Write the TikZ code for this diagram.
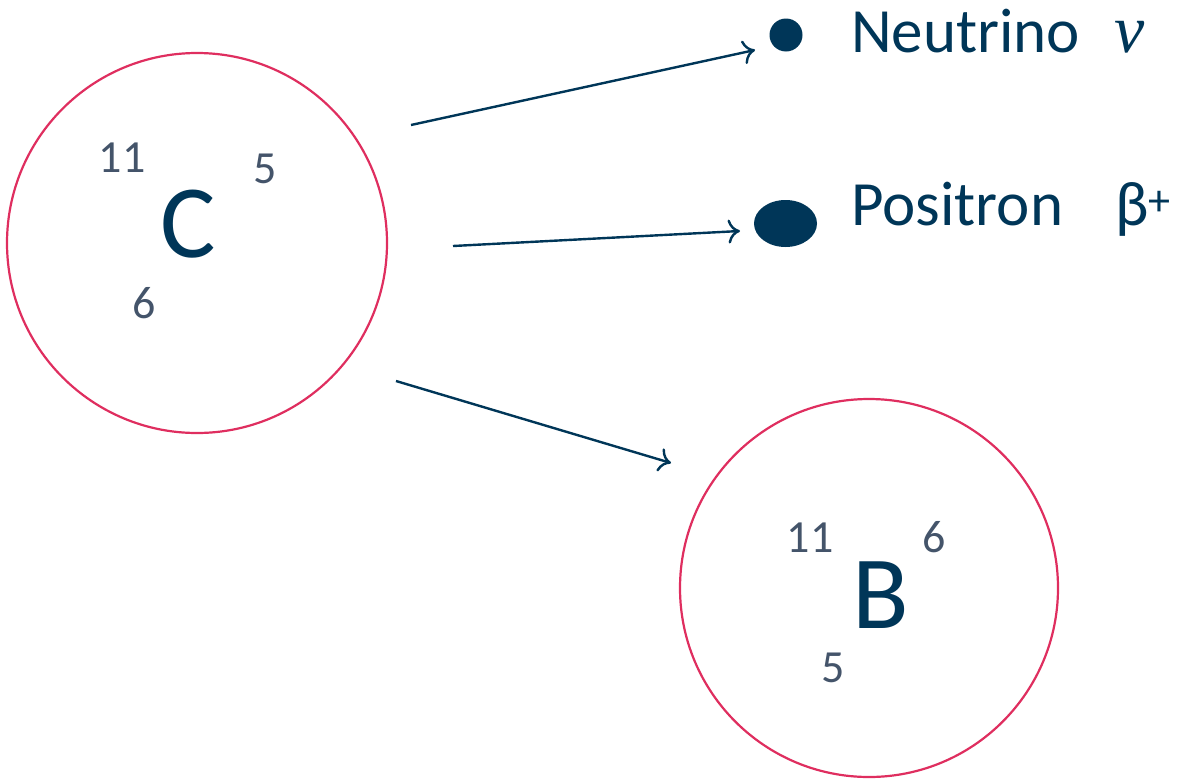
\documentclass[tikz,border=0pt]{standalone}
\usepackage{fontspec}
\setmainfont{Carlito}
\newfontfamily\nufont{Liberation Serif}
\usetikzlibrary{arrows.meta,shapes.geometric}
\definecolor{navy}{HTML}{003658}
\definecolor{slate}{HTML}{44546A}
\definecolor{crimson}{HTML}{DF2E5F}
\tikzset{
  nucleus/.style={circle, draw=crimson, line width=2.2pt, minimum size=#1, inner sep=0pt},
  elem/.style={text=navy, inner sep=0pt, anchor=base, font=\fontsize{104}{120}\selectfont},
  num/.style={text=slate, inner sep=0pt, anchor=base, font=\fontsize{46}{54}\selectfont},
  lbl/.style={text=navy, inner sep=0pt, anchor=base west, font=\fontsize{63}{75}\selectfont},
  react/.style={draw=navy, line width=2.4pt, -{To[length=12pt,width=24pt,line width=2.4pt]}},
}
\begin{document}
\begin{tikzpicture}[x=1pt,y=-1pt]
\useasboundingbox (0,0) rectangle (1180,782);
% nuclei
\node[nucleus=380pt] (cn) at (197,243) {};
\node[nucleus=378pt] (bn) at (869,588) {};
% carbon labels
\node[elem] (c) at (188,257) {C};
\node[num] (cmass) at (122,172) {11};
\node[num] (cneu) at (265,183) {5};
\node[num] (cz) at (144,318) {6};
% boron labels
\node[elem] (b) at (881,628) {B};
\node[num] (bmass) at (810,552) {11};
\node[num] (bneu) at (934,552) {6};
\node[num] (bz) at (833,682) {5};
% particles
\node[circle, fill=navy, minimum size=33pt, inner sep=0pt] (nu) at (786,35) {};
\node[ellipse, fill=navy, minimum width=63pt, minimum height=47pt, inner sep=0pt] (pos) at (785.5,223.5) {};
\node[lbl] (nulbl) at (851,52) {Neutrino};
\node[text=navy, inner sep=0pt, anchor=base, font=\fontsize{68}{80}\selectfont\nufont\itshape] (nusym) at (1130,52) {ν};
\node[lbl] (poslbl) at (851,225) {Positron};
\node[lbl] (beta) at (1115,225) {β\textsuperscript{+}};
% arrow coordinates
\coordinate (a1s) at (411,125);
\coordinate (a1e) at (755,50);
\coordinate (a2s) at (453,246);
\coordinate (a2e) at (740,231);
\coordinate (a3s) at (396,381);
\coordinate (a3e) at (671,463);
\draw[react] (a1s) -- (a1e);
\draw[react] (a2s) -- (a2e);
\draw[react] (a3s) -- (a3e);
\end{tikzpicture}
\end{document}
